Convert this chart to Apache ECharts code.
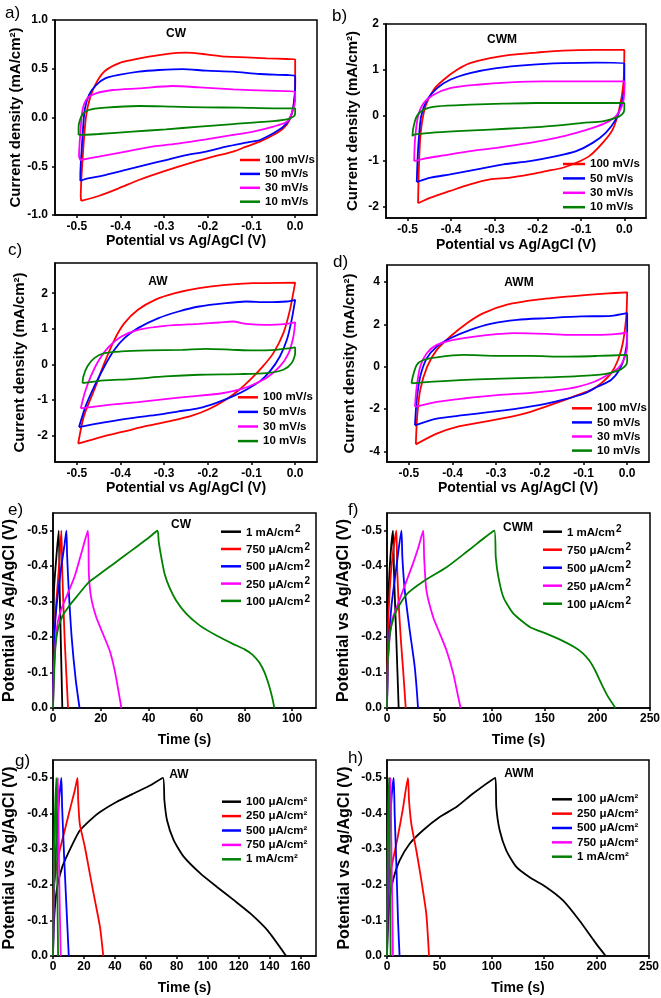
<!DOCTYPE html>
<html><head><meta charset="utf-8">
<script src="https://cdn.jsdelivr.net/npm/echarts@6/dist/echarts.min.js"></script>
<style>html,body{margin:0;padding:0;background:#fff}#c{width:661px;height:998px}</style>
</head><body><div id="c"></div><script>
// ---------- tick labels ----------
const cvPotentialTicks = [-0.5, -0.4, -0.3, -0.2, -0.1, 0];
const cwCurrentTicks = [-1, -0.5, 0, 0.5, 1];
const cwmCurrentTicks = [-2, -1, 0, 1, 2];
const awCurrentTicks = [-2, -1, 0, 1, 2];
const awmCurrentTicks = [-4, -2, 0, 2, 4];
const gcdPotentialTicks = [-0.5, -0.4, -0.3, -0.2, -0.1, 0];
const cwTimeTicks = [0, 20, 40, 60, 80, 100];
const cwmTimeTicks = [0, 50, 100, 150, 200, 250];
const awTimeTicks = [0, 20, 40, 60, 80, 100, 120, 140, 160];
const awmTimeTicks = [0, 50, 100, 150, 200, 250];

// ---------- categories ----------
const scanRates = ['100 mV/s', '50 mV/s', '30 mV/s', '10 mV/s'];
const currentsC = ['1 mA/cm²', '750 μA/cm²', '500 μA/cm²', '250 μA/cm²', '100 μA/cm²'];
const currentsA = ['100 μA/cm²', '250 μA/cm²', '500 μA/cm²', '750 μA/cm²', '1 mA/cm²'];

// ---------- CV loops [potential V, current mA/cm2] ----------
const cw_cv_100 = [[-0.490,-0.856],[-0.491,-0.81],[-0.487,-0.436],[-0.479,0.009],[-0.469,0.214],[-0.454,0.368],[-0.435,0.48],[-0.404,0.556],[-0.373,0.59],[-0.335,0.624],[-0.296,0.651],[-0.25,0.665],[-0.204,0.648],[-0.158,0.624],[-0.112,0.617],[-0.065,0.607],[-0.019,0.6],[0,0.597],[0,0.35],[-0.004,0.111],[-0.013,-0.026],[-0.027,-0.111],[-0.05,-0.18],[-0.081,-0.248],[-0.112,-0.299],[-0.142,-0.35],[-0.188,-0.402],[-0.235,-0.46],[-0.296,-0.545],[-0.358,-0.641],[-0.404,-0.726],[-0.45,-0.805],[-0.49,-0.856]];
const cw_cv_50 = [[-0.492,-0.651],[-0.492,-0.6],[-0.488,-0.265],[-0.482,0.077],[-0.472,0.231],[-0.456,0.333],[-0.435,0.402],[-0.404,0.436],[-0.358,0.47],[-0.312,0.487],[-0.258,0.497],[-0.204,0.48],[-0.142,0.47],[-0.081,0.446],[-0.019,0.436],[0,0.426],[0,0.316],[-0.004,0.111],[-0.012,-0.009],[-0.027,-0.094],[-0.05,-0.162],[-0.081,-0.231],[-0.112,-0.258],[-0.158,-0.299],[-0.204,-0.35],[-0.25,-0.385],[-0.296,-0.436],[-0.342,-0.487],[-0.388,-0.538],[-0.435,-0.59],[-0.481,-0.631],[-0.492,-0.651]];
const cw_cv_30 = [[-0.492,-0.436],[-0.495,-0.4],[-0.492,-0.162],[-0.487,0.077],[-0.476,0.197],[-0.456,0.248],[-0.418,0.282],[-0.358,0.299],[-0.281,0.323],[-0.219,0.309],[-0.142,0.289],[-0.065,0.275],[0,0.265],[0,0.18],[-0.008,0.043],[-0.019,-0.043],[-0.05,-0.094],[-0.096,-0.145],[-0.142,-0.179],[-0.204,-0.224],[-0.265,-0.265],[-0.327,-0.299],[-0.388,-0.35],[-0.45,-0.402],[-0.492,-0.436]];
const cw_cv_10 = [[-0.496,-0.179],[-0.496,-0.094],[-0.488,0.026],[-0.473,0.077],[-0.435,0.101],[-0.358,0.118],[-0.281,0.111],[-0.204,0.104],[-0.127,0.101],[-0.05,0.094],[0,0.094],[0,0.043],[-0.004,0.009],[-0.019,-0.019],[-0.065,-0.043],[-0.142,-0.067],[-0.219,-0.094],[-0.296,-0.121],[-0.373,-0.145],[-0.45,-0.169],[-0.496,-0.179]];

const cwm_cv_100 = [[-0.476,-1.927],[-0.476,-1.913],[-0.474,-1.113],[-0.47,-0.385],[-0.459,0.196],[-0.44,0.56],[-0.417,0.778],[-0.386,0.996],[-0.356,1.142],[-0.31,1.251],[-0.264,1.324],[-0.203,1.375],[-0.142,1.418],[-0.066,1.433],[0,1.433],[-0.002,0.705],[-0.012,0.124],[-0.027,-0.313],[-0.05,-0.604],[-0.081,-0.895],[-0.111,-1.04],[-0.142,-1.149],[-0.18,-1.222],[-0.218,-1.295],[-0.264,-1.367],[-0.31,-1.404],[-0.356,-1.513],[-0.402,-1.658],[-0.447,-1.804],[-0.476,-1.927]];
const cwm_cv_50 = [[-0.479,-1.462],[-0.476,-0.749],[-0.469,-0.022],[-0.455,0.342],[-0.432,0.596],[-0.402,0.778],[-0.356,0.924],[-0.295,1.033],[-0.218,1.105],[-0.142,1.142],[-0.066,1.156],[0,1.142],[0,0.633],[-0.008,0.196],[-0.02,-0.095],[-0.043,-0.385],[-0.073,-0.604],[-0.111,-0.785],[-0.157,-0.895],[-0.218,-1.004],[-0.279,-1.076],[-0.34,-1.185],[-0.402,-1.295],[-0.447,-1.367],[-0.479,-1.462]];
const cwm_cv_30 = [[-0.485,-1.004],[-0.483,-0.531],[-0.476,-0.022],[-0.463,0.269],[-0.44,0.451],[-0.402,0.596],[-0.34,0.669],[-0.264,0.72],[-0.188,0.742],[-0.096,0.742],[0,0.742],[0,0.487],[-0.006,0.196],[-0.02,-0.022],[-0.043,-0.167],[-0.073,-0.276],[-0.111,-0.385],[-0.157,-0.495],[-0.218,-0.604],[-0.295,-0.713],[-0.356,-0.785],[-0.417,-0.88],[-0.463,-0.953],[-0.485,-1.004]];
const cwm_cv_10 = [[-0.489,-0.458],[-0.487,-0.276],[-0.479,-0.022],[-0.463,0.124],[-0.432,0.196],[-0.356,0.233],[-0.279,0.255],[-0.203,0.269],[-0.127,0.269],[-0.05,0.269],[0,0.269],[0,0.124],[-0.006,0.015],[-0.02,-0.058],[-0.05,-0.131],[-0.096,-0.167],[-0.157,-0.225],[-0.234,-0.276],[-0.31,-0.313],[-0.386,-0.349],[-0.447,-0.385],[-0.485,-0.422],[-0.489,-0.458]];

const aw_cv_100 = [[-0.497,-2.234],[-0.484,-1.466],[-0.46,-0.716],[-0.437,0.033],[-0.414,0.689],[-0.391,1.157],[-0.36,1.532],[-0.321,1.813],[-0.275,2.0],[-0.22,2.141],[-0.159,2.234],[-0.097,2.281],[0,2.3],[-0.012,1.532],[-0.027,0.876],[-0.05,0.314],[-0.074,-0.061],[-0.097,-0.36],[-0.128,-0.716],[-0.159,-0.998],[-0.197,-1.26],[-0.236,-1.447],[-0.282,-1.588],[-0.337,-1.729],[-0.391,-1.888],[-0.445,-2.047],[-0.497,-2.234]];
const aw_cv_50 = [[-0.495,-1.766],[-0.48,-1.185],[-0.46,-0.623],[-0.437,-0.061],[-0.414,0.408],[-0.391,0.736],[-0.36,1.017],[-0.313,1.298],[-0.267,1.485],[-0.22,1.626],[-0.159,1.72],[-0.112,1.766],[-0.066,1.747],[-0.019,1.766],[0,1.813],[-0.008,1.251],[-0.019,0.689],[-0.035,0.22],[-0.058,-0.201],[-0.081,-0.482],[-0.112,-0.716],[-0.143,-0.904],[-0.182,-1.091],[-0.22,-1.232],[-0.267,-1.326],[-0.313,-1.419],[-0.375,-1.513],[-0.437,-1.635],[-0.495,-1.766]];
const aw_cv_30 = [[-0.491,-1.241],[-0.482,-0.811],[-0.468,-0.342],[-0.449,0.127],[-0.426,0.501],[-0.398,0.782],[-0.36,0.97],[-0.298,1.082],[-0.22,1.138],[-0.174,1.176],[-0.143,1.204],[-0.112,1.138],[-0.066,1.11],[-0.019,1.138],[0,1.176],[-0.004,0.783],[-0.015,0.314],[-0.035,-0.061],[-0.066,-0.389],[-0.097,-0.576],[-0.128,-0.716],[-0.174,-0.829],[-0.236,-0.904],[-0.298,-0.979],[-0.36,-1.063],[-0.422,-1.138],[-0.468,-1.204],[-0.491,-1.241]];
const aw_cv_10 = [[-0.487,-0.529],[-0.485,-0.342],[-0.476,-0.061],[-0.46,0.173],[-0.437,0.314],[-0.398,0.361],[-0.337,0.389],[-0.259,0.408],[-0.205,0.436],[-0.143,0.408],[-0.097,0.389],[-0.043,0.408],[0,0.473],[0,0.314],[-0.008,0.033],[-0.027,-0.155],[-0.066,-0.248],[-0.128,-0.276],[-0.22,-0.295],[-0.298,-0.342],[-0.375,-0.417],[-0.437,-0.454],[-0.487,-0.529]];

const awm_cv_100 = [[-0.484,-3.668],[-0.484,-3.636],[-0.481,-2.372],[-0.474,-1.107],[-0.458,0],[-0.436,0.791],[-0.405,1.423],[-0.367,2.055],[-0.329,2.53],[-0.275,2.925],[-0.206,3.162],[-0.129,3.32],[-0.052,3.447],[0,3.51],[-0.002,2.372],[-0.01,1.107],[-0.021,0.316],[-0.037,-0.316],[-0.06,-0.791],[-0.083,-1.107],[-0.114,-1.344],[-0.144,-1.581],[-0.183,-1.866],[-0.221,-2.134],[-0.267,-2.372],[-0.329,-2.609],[-0.39,-2.846],[-0.436,-3.162],[-0.484,-3.668]];
const awm_cv_50 = [[-0.486,-2.767],[-0.482,-1.581],[-0.474,-0.474],[-0.459,0.395],[-0.436,0.949],[-0.405,1.344],[-0.359,1.739],[-0.313,2.024],[-0.252,2.213],[-0.183,2.292],[-0.106,2.372],[-0.037,2.403],[0,2.53],[0,1.423],[-0.006,0.474],[-0.018,-0.158],[-0.037,-0.632],[-0.068,-0.949],[-0.098,-1.265],[-0.144,-1.549],[-0.19,-1.771],[-0.252,-1.976],[-0.313,-2.134],[-0.375,-2.292],[-0.436,-2.451],[-0.486,-2.767]];
const awm_cv_30 = [[-0.486,-1.897],[-0.482,-0.949],[-0.474,0],[-0.459,0.632],[-0.436,1.028],[-0.398,1.265],[-0.336,1.455],[-0.259,1.581],[-0.183,1.549],[-0.129,1.502],[-0.068,1.502],[-0.021,1.549],[0,1.613],[0,0.949],[-0.008,0.316],[-0.021,-0.079],[-0.045,-0.395],[-0.075,-0.711],[-0.114,-0.949],[-0.16,-1.107],[-0.221,-1.233],[-0.298,-1.344],[-0.375,-1.502],[-0.436,-1.66],[-0.486,-1.897]];
const awm_cv_10 = [[-0.494,-0.791],[-0.491,-0.474],[-0.482,0.079],[-0.467,0.316],[-0.436,0.443],[-0.375,0.553],[-0.298,0.506],[-0.221,0.506],[-0.144,0.474],[-0.068,0.506],[0,0.553],[0,0.237],[-0.006,0],[-0.021,-0.19],[-0.052,-0.348],[-0.114,-0.443],[-0.19,-0.506],[-0.267,-0.553],[-0.344,-0.601],[-0.421,-0.68],[-0.467,-0.743],[-0.494,-0.791]];

// ---------- GCD curves [time s, potential V] ----------
const cw_gcd_1mA = [[0,0],[0.4,-0.33],[1.4,-0.425],[2.4,-0.5],[2.8,-0.33],[3.9,0]];
const cw_gcd_750 = [[0,0],[0.4,-0.19],[1.4,-0.3],[2.8,-0.425],[3.5,-0.5],[3.9,-0.38],[4.9,-0.19],[6.3,0]];
const cw_gcd_500 = [[0,0],[0.3,-0.15],[1,-0.25],[2,-0.32],[3.5,-0.4],[4.8,-0.46],[5.6,-0.5],[5.9,-0.43],[6.6,-0.33],[7.8,-0.2],[9.5,-0.08],[11.1,0]];
const cw_gcd_250 = [[0,0],[0.5,-0.12],[1.5,-0.22],[3,-0.27],[6,-0.32],[9,-0.37],[12,-0.44],[14.6,-0.5],[15,-0.378],[16,-0.31],[18.1,-0.256],[20.9,-0.209],[23.7,-0.162],[25.8,-0.106],[27.6,-0.04],[28.6,0]];
const cw_gcd_100 = [[0,0],[0.5,-0.1],[1,-0.17],[2,-0.22],[4,-0.26],[7,-0.29],[10,-0.315],[15,-0.355],[20,-0.38],[25,-0.405],[30,-0.43],[35,-0.455],[40,-0.48],[43.7,-0.5],[44.2,-0.47],[45.3,-0.425],[46.7,-0.378],[48.7,-0.34],[51.5,-0.303],[55.7,-0.266],[61.3,-0.233],[68.2,-0.205],[75.2,-0.181],[80,-0.166],[83.5,-0.15],[86.3,-0.128],[88.5,-0.1],[90.3,-0.065],[91.6,-0.032],[92.6,0]];

const cwm_gcd_1mA = [[0,0],[1,-0.284],[3.2,-0.425],[5.7,-0.5],[6.7,-0.378],[8.9,-0.19],[11.1,0]];
const cwm_gcd_750 = [[0,0],[0.8,-0.2],[2.5,-0.33],[5,-0.42],[8.9,-0.5],[9.6,-0.4],[11,-0.3],[13,-0.2],[15.5,-0.1],[17.8,0]];
const cwm_gcd_500 = [[0,0],[1,-0.14],[4.1,-0.284],[8.9,-0.397],[13.7,-0.5],[14.6,-0.425],[16.9,-0.331],[21.6,-0.219],[26.4,-0.115],[29.5,0]];
const cwm_gcd_250 = [[0,0],[0.8,-0.12],[2.5,-0.2],[5,-0.25],[10,-0.29],[15,-0.33],[20,-0.37],[25,-0.41],[30,-0.455],[34.4,-0.5],[35.3,-0.425],[37.5,-0.331],[43.9,-0.256],[50.3,-0.209],[56.6,-0.162],[63,-0.097],[67.7,-0.031],[70,0]];
const cwm_gcd_100 = [[0,0],[0.5,-0.1],[1.5,-0.17],[4,-0.23],[9,-0.275],[18.4,-0.32],[34.4,-0.357],[56.6,-0.397],[78.9,-0.448],[102,-0.5],[103.4,-0.425],[105.9,-0.369],[110.7,-0.312],[120.2,-0.266],[136.1,-0.228],[152,-0.209],[167.9,-0.188],[178,-0.172],[186,-0.155],[192.5,-0.133],[198,-0.105],[203.5,-0.07],[209.5,-0.035],[217.2,0]];

const aw_gcd_100 = [[0,0],[0.5,-0.08],[1.5,-0.15],[3,-0.2],[6,-0.25],[10,-0.29],[17,-0.35],[25,-0.385],[30.4,-0.404],[41,-0.432],[52,-0.456],[63,-0.479],[71.1,-0.5],[72,-0.437],[73.7,-0.381],[78,-0.325],[84.6,-0.278],[95.4,-0.231],[106.2,-0.193],[117.1,-0.156],[127.9,-0.118],[138.8,-0.071],[150.7,0]];
const aw_gcd_250 = [[0,0],[0.4,-0.184],[2.2,-0.25],[4.3,-0.296],[7.6,-0.353],[10.8,-0.409],[14.1,-0.465],[15.8,-0.5],[16.3,-0.437],[17.3,-0.371],[20.6,-0.306],[23.8,-0.231],[27.1,-0.156],[30.4,-0.081],[32.5,0]];
const aw_gcd_500 = [[0,0],[0.7,-0.184],[2.2,-0.325],[3.9,-0.437],[5.4,-0.5],[5.9,-0.418],[7.2,-0.278],[8.7,-0.137],[10.2,0]];
const aw_gcd_750 = [[0,0],[1,-0.3],[2.2,-0.43],[3.2,-0.5],[3.6,-0.35],[4.3,-0.15],[5,0]];
const aw_gcd_1mA = [[0,0],[0.7,-0.3],[1.5,-0.43],[2.2,-0.5],[2.5,-0.35],[2.9,-0.15],[3.3,0]];

const awm_gcd_100 = [[0,0],[1,-0.09],[2.5,-0.156],[5.7,-0.212],[12.1,-0.268],[21.6,-0.315],[34.4,-0.353],[50.3,-0.39],[66.2,-0.418],[82.1,-0.456],[103.4,-0.5],[104.3,-0.418],[107.5,-0.353],[113.9,-0.296],[123.4,-0.25],[136.1,-0.221],[152,-0.193],[167.9,-0.156],[183.8,-0.099],[199.7,-0.034],[208.7,0]];
const awm_gcd_250 = [[0,0],[0.8,-0.15],[2.5,-0.22],[5.7,-0.27],[10,-0.33],[15,-0.41],[20,-0.5],[21,-0.437],[23.2,-0.371],[28,-0.296],[32.8,-0.212],[37.5,-0.118],[40.1,0]];
const awm_gcd_500 = [[0,0],[1,-0.2],[2.5,-0.35],[4.5,-0.45],[6.4,-0.5],[7.3,-0.4],[9,-0.25],[10.5,-0.1],[12,0]];
const awm_gcd_750 = [[0,0],[1,-0.3],[2.5,-0.45],[3.5,-0.5],[4,-0.35],[5,-0.15],[5.7,0]];
const awm_gcd_1mA = [[0,0],[0.6,-0.3],[1.3,-0.43],[2,-0.5],[2.4,-0.35],[3,-0.15],[3.5,0]];

// ---------- styles & layout ----------
const FONT = '"Liberation Sans", Arial, sans-serif';
const RED = '#ff0000', BLUE = '#0000ff', MAG = '#ff00ff', GRN = '#008000', BLK = '#000000';
const cvColors = [RED, BLUE, MAG, GRN];
const gcdColors = [BLK, RED, BLUE, MAG, GRN];

const CV_X = 'Potential vs Ag/AgCl (V)';
const CV_Y = 'Current density (mA/cm²)';
const GCD_X = 'Time (s)';
const GCD_Y = 'Potential vs Ag/AgCl (V)';

const panels = [
  {letter:'a)', tag:'CW', names:scanRates, curves:[cw_cv_100,cw_cv_50,cw_cv_30,cw_cv_10], colors:cvColors, cv:true,
   xName:CV_X, yName:CV_Y, xTicks:cvPotentialTicks, yTicks:cwCurrentTicks, xR:[-0.55,0.05], yR:[-1,1], xD:1, yD:1, inv:false,
   box:[55,20,262,195], letterPos:[5,13], tagPos:[176,34], xGap:19.5, yGap:27.5, yNameSize:15,
   lg:{left:240, row:160, w:20, pitch:13.9, lh:12, sup:false}},
  {letter:'b)', tag:'CWM', names:scanRates, curves:[cwm_cv_100,cwm_cv_50,cwm_cv_30,cwm_cv_10], colors:cvColors, cv:true,
   xName:CV_X, yName:CV_Y, xTicks:cvPotentialTicks, yTicks:cwmCurrentTicks, xR:[-0.55,0.05], yR:[-2.25,2], xD:1, yD:0, inv:false,
   box:[386,24,260,194], letterPos:[332,16], tagPos:[502,40], xGap:20, yGap:25.5, yNameSize:15,
   lg:{left:563, row:164, w:22, pitch:14.4, lh:12, sup:false}},
  {letter:'c)', tag:'AW', names:scanRates, curves:[aw_cv_100,aw_cv_50,aw_cv_30,aw_cv_10], colors:cvColors, cv:true,
   xName:CV_X, yName:CV_Y, xTicks:cvPotentialTicks, yTicks:awCurrentTicks, xR:[-0.55,0.05], yR:[-2.75,2.85], xD:1, yD:0, inv:false,
   box:[55,263,262,199], letterPos:[8,250], tagPos:[158,282], xGap:17.7, yGap:27.5, yNameSize:15,
   lg:{left:238, row:397.3, w:20, pitch:14.6, lh:12, sup:false}},
  {letter:'d)', tag:'AWM', names:scanRates, curves:[awm_cv_100,awm_cv_50,awm_cv_30,awm_cv_10], colors:cvColors, cv:true,
   xName:CV_X, yName:CV_Y, xTicks:cvPotentialTicks, yTicks:awmCurrentTicks, xR:[-0.55,0.05], yR:[-4.5,4.8], xD:1, yD:0, inv:false,
   box:[387,265,262,197], letterPos:[333,262], tagPos:[519,283], xGap:19.3, yGap:29.5, yNameSize:15,
   lg:{left:572, row:408.3, w:20, pitch:14.1, lh:12, sup:false}},
  {letter:'e)', tag:'CW', names:currentsC, curves:[cw_gcd_1mA,cw_gcd_750,cw_gcd_500,cw_gcd_250,cw_gcd_100], colors:gcdColors, cv:false,
   xName:GCD_X, yName:GCD_Y, xTicks:cwTimeTicks, yTicks:gcdPotentialTicks, xR:[0,110], yR:[-0.55,0], xD:0, yD:1, inv:true,
   box:[53,513,263,195], letterPos:[8,510], tagPos:[181,525], xGap:25, yGap:35, yNameSize:16,
   lg:{left:221, row:531.7, w:20, pitch:17.3, lh:14, sup:true}},
  {letter:'f)', tag:'CWM', names:currentsC, curves:[cwm_gcd_1mA,cwm_gcd_750,cwm_gcd_500,cwm_gcd_250,cwm_gcd_100], colors:gcdColors, cv:false,
   xName:GCD_X, yName:GCD_Y, xTicks:cwmTimeTicks, yTicks:gcdPotentialTicks, xR:[0,250], yR:[-0.55,0], xD:0, yD:1, inv:true,
   box:[387,513,263,195], letterPos:[348,510], tagPos:[518,528], xGap:25, yGap:35.5, yNameSize:16,
   lg:{left:543, row:531.7, w:19, pitch:18, lh:14, sup:true}},
  {letter:'g)', tag:'AW', names:currentsA, curves:[aw_gcd_100,aw_gcd_250,aw_gcd_500,aw_gcd_750,aw_gcd_1mA], colors:gcdColors, cv:false,
   xName:GCD_X, yName:GCD_Y, xTicks:awTimeTicks, yTicks:gcdPotentialTicks, xR:[0,170], yR:[-0.55,0], xD:0, yD:1, inv:true,
   box:[53,760,263,196], letterPos:[15,761], tagPos:[179,775], xGap:25, yGap:35, yNameSize:16,
   lg:{left:222, row:801.7, w:19, pitch:14.4, lh:12, sup:false}},
  {letter:'h)', tag:'AWM', names:currentsA, curves:[awm_gcd_100,awm_gcd_250,awm_gcd_500,awm_gcd_750,awm_gcd_1mA], colors:gcdColors, cv:false,
   xName:GCD_X, yName:GCD_Y, xTicks:awmTimeTicks, yTicks:gcdPotentialTicks, xR:[0,250], yR:[-0.55,0], xD:0, yD:1, inv:true,
   box:[387,760,262,196], letterPos:[348,758], tagPos:[519,774], xGap:25, yGap:34, yNameSize:16,
   lg:{left:552, row:799.3, w:20, pitch:14.35, lh:12, sup:false}}
];

const labelStyle = {color:'#000', fontSize:12, fontWeight:'bold', fontFamily:FONT};
function fmt(d){ return v => (Math.abs(v) < 1e-9 ? 0 : v).toFixed(d); }

const option = {
  animation: false,
  backgroundColor: '#fff',
  grid: panels.map(p => ({left:p.box[0], top:p.box[1], width:p.box[2], height:p.box[3], show:true,
    borderColor:'#000', borderWidth:1.5, backgroundColor:'transparent', containLabel:false, outerBoundsMode:'none'})),
  xAxis: panels.map((p,i) => ({
    gridIndex:i, type:'value', min:p.xR[0], max:p.xR[1],
    axisLine:{show:true, onZero:false, lineStyle:{color:'#000', width:1.5}},
    axisTick:{show:true, inside:false, length:3, lineStyle:{color:'#000', width:1.5}, customValues:p.xTicks},
    axisLabel:Object.assign({customValues:p.xTicks, formatter:fmt(p.xD), margin:p.inv?5:6, showMinLabel:true, showMaxLabel:true}, labelStyle),
    splitLine:{show:false},
    name:p.xName, nameLocation:'middle', nameGap:p.xGap,
    nameTextStyle:{color:'#000', fontSize:14, fontWeight:'bold', fontFamily:FONT}
  })),
  yAxis: panels.map((p,i) => ({
    gridIndex:i, type:'value', min:p.yR[0], max:p.yR[1], inverse:p.inv,
    axisLine:{show:true, onZero:false, lineStyle:{color:'#000', width:1.5}},
    axisTick:{show:true, inside:false, length:3, lineStyle:{color:'#000', width:1.5}, customValues:p.yTicks},
    axisLabel:Object.assign({customValues:p.yTicks, formatter:fmt(p.yD), margin:p.inv?5:7, showMinLabel:true, showMaxLabel:true}, labelStyle),
    splitLine:{show:false},
    name:p.yName, nameLocation:'middle', nameGap:p.yGap, nameRotate:90,
    nameTextStyle:{color:'#000', fontSize:p.yNameSize, fontWeight:'bold', fontFamily:FONT}
  })),
  legend: panels.map(p => ({
    orient:'vertical', left:p.lg.left, top:p.lg.row - p.lg.lh/2, padding:0,
    itemWidth:p.lg.w, itemHeight:2.5, itemGap:p.lg.pitch - p.lg.lh, icon:'rect', selectedMode:false,
    data:p.names.map((n,k) => ({name:n, itemStyle:{color:p.colors[k], borderWidth:0}})),
    formatter: p.lg.sup ? (n => '{t|' + n.replace('²','') + '}{s|2}') : (n => n),
    textStyle:{color:'#000', fontSize:11.5, fontWeight:'bold', fontFamily:FONT, lineHeight:p.lg.lh,
      rich:{
        t:{fontSize:11.5, fontWeight:'bold', fontFamily:FONT, color:'#000', lineHeight:p.lg.lh, verticalAlign:'bottom'},
        s:{fontSize:10, fontWeight:'bold', fontFamily:FONT, color:'#000', verticalAlign:'top', lineHeight:p.lg.lh, padding:[0,0,0,1]}}}
  })),
  series: panels.flatMap((p,i) => p.curves.map((c,k) => ({
    type:'line', name:p.names[k], xAxisIndex:i, yAxisIndex:i, data:c,
    showSymbol:false, symbol:'none', smooth:p.cv ? 0.25 : 0.2, clip:true,
    lineStyle:{color:p.colors[k], width:1.8}, itemStyle:{color:p.colors[k]},
    emphasis:{disabled:true}, z:2+k
  }))),
  graphic: panels.flatMap(p => [
    {type:'text', x:p.letterPos[0], y:p.letterPos[1], style:{text:p.letter, fill:'#000', fontSize:17, fontFamily:FONT, align:'left', verticalAlign:'middle'}},
    {type:'text', x:p.tagPos[0], y:p.tagPos[1], style:{text:p.tag, fill:'#000', fontSize:12, fontWeight:'bold', fontFamily:FONT, align:'center', verticalAlign:'middle'}}
  ])
};

const chart = echarts.init(document.getElementById('c'), null, {renderer:'canvas', width:661, height:998});
chart.setOption(option);
</script></body></html>
